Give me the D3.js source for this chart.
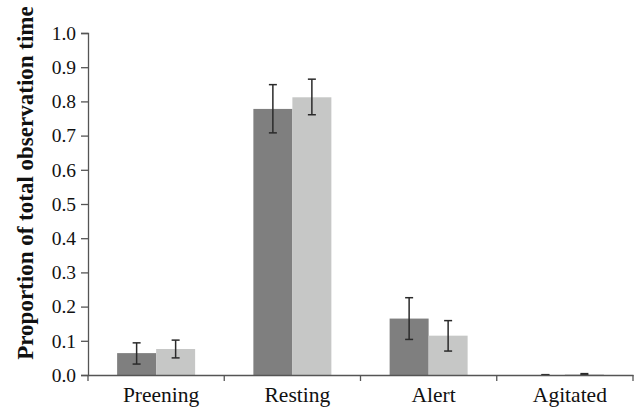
<!DOCTYPE html>
<html>
<head>
<meta charset="utf-8">
<script src="https://d3js.org/d3.v7.min.js"></script>
<style>
  body { margin: 0; background: #fff; }
  text { font-family: "Liberation Serif", "Times New Roman", serif; }
</style>
</head>
<body>
<svg id="chart" width="636" height="407"></svg>
<script>

var categories = ['Preening', 'Resting', 'Alert', 'Agitated'];
var series = ['dark', 'light'];
var colors = {dark: '#7f7f7f', light: '#c6c7c6'};

// mean, lower and upper end of error bar, per category
var dark_mean = [0.064, 0.778, 0.165, 0.000];
var dark_lo   = [0.032, 0.708, 0.104, 0.000];
var dark_hi   = [0.094, 0.849, 0.226, 0.001];

var light_mean = [0.076, 0.812, 0.115, 0.002];
var light_lo   = [0.050, 0.761, 0.070, 0.001];
var light_hi   = [0.102, 0.865, 0.159, 0.004];

var y_ticks = [0, 0.1, 0.2, 0.3, 0.4, 0.5, 0.6, 0.7, 0.8, 0.9, 1.0];

var bars_dat = [];
categories.forEach(function(c, i){
  bars_dat.push({cat: c, s: 'dark',  v: dark_mean[i],  lo: dark_lo[i],  hi: dark_hi[i]});
  bars_dat.push({cat: c, s: 'light', v: light_mean[i], lo: light_lo[i], hi: light_hi[i]});
});

var svg = d3.select('#chart');
var m_left = 88, m_right = 633, m_top = 33, m_bottom = 375;
var axis_col = '#555';
var serif = '"Liberation Serif", "Times New Roman", serif';

var x = d3.scaleBand().domain(categories).range([m_left, m_right]).padding(0);
var bw = 39;
var xs = d3.scaleBand().domain(series)
    .range([x.bandwidth()/2 - bw, x.bandwidth()/2 + bw]).padding(0);
var y = d3.scaleLinear().domain([0, 1]).range([m_bottom, m_top]);

// bars
svg.append('g').selectAll('rect')
  .data(bars_dat)
  .enter()
  .append('rect')
  .attr('x', function(d){ return x(d.cat) + xs(d.s); })
  .attr('y', function(d){ return y(d.v); })
  .attr('width', xs.bandwidth())
  .attr('height', function(d){ return y(0) - y(d.v); })
  .attr('fill', function(d){ return colors[d.s]; });

// error bars
var err = svg.append('g')
  .attr('stroke', '#2a2a2a')
  .attr('stroke-width', 1.5);
var cap = 4;
bars_dat.forEach(function(d){
  var cx = x(d.cat) + xs(d.s) + xs.bandwidth()/2;
  err.append('line').attr('x1', cx).attr('x2', cx).attr('y1', y(d.lo)).attr('y2', y(d.hi));
  err.append('line').attr('x1', cx - cap).attr('x2', cx + cap).attr('y1', y(d.lo)).attr('y2', y(d.lo));
  err.append('line').attr('x1', cx - cap).attr('x2', cx + cap).attr('y1', y(d.hi)).attr('y2', y(d.hi));
});

// y axis
var yAxis = d3.axisLeft(y).tickValues(y_ticks).tickFormat(d3.format('.1f')).tickSize(7).tickPadding(5);
var gy = svg.append('g')
  .attr('transform', 'translate(' + m_left + ',0)')
  .call(yAxis)
  .attr('font-family', serif);
gy.select('.domain').attr('stroke', axis_col).attr('stroke-width', 1.3);
gy.selectAll('.tick line').attr('stroke', axis_col).attr('stroke-width', 1.3);
gy.selectAll('.tick text')
  .attr('font-family', serif)
  .attr('font-size', 19.5)
  .attr('fill', '#111');

// x axis (ticks at group boundaries)
var xAxis = d3.axisBottom(x).tickSize(0).tickPadding(12);
var gx = svg.append('g')
  .attr('transform', 'translate(0,' + m_bottom + ')')
  .call(xAxis)
  .attr('font-family', serif);
gx.select('.domain').attr('stroke', axis_col).attr('stroke-width', 1.3);
gx.selectAll('.tick text')
  .attr('font-family', serif)
  .attr('font-size', 21.5)
  .attr('dx', 5)
  .attr('fill', '#111');
var bounds = categories.map(function(c){ return x(c); }).concat([m_right]);
gx.selectAll('.bound')
  .data(bounds)
  .enter()
  .append('line')
  .attr('x1', function(d){ return d; })
  .attr('x2', function(d){ return d; })
  .attr('y1', 0)
  .attr('y2', 6)
  .attr('stroke', axis_col)
  .attr('stroke-width', 1.3);

// y title
svg.append('text')
  .attr('transform', 'translate(33,183) rotate(-90)')
  .attr('text-anchor', 'middle')
  .attr('font-family', serif)
  .attr('font-size', 23)
  .attr('font-weight', 'bold')
  .attr('fill', '#111')
  .text('Proportion of total observation time');

</script>
</body>
</html>
